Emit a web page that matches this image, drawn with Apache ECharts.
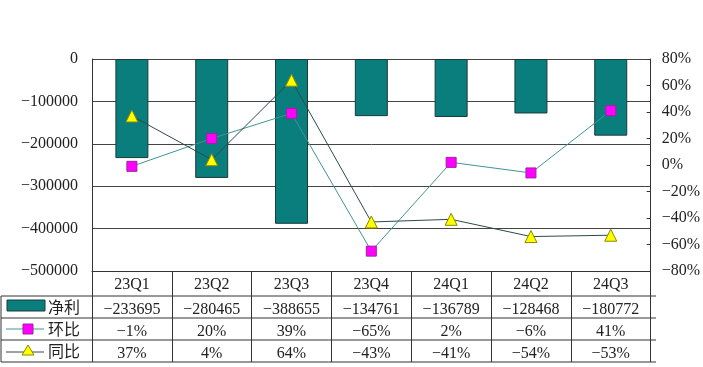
<!DOCTYPE html>
<html><head><meta charset="utf-8">
<script src="https://cdn.jsdelivr.net/npm/echarts@6/dist/echarts.min.js"></script>
<style>html,body{margin:0;padding:0;background:#fff}#c{width:703px;height:367px}</style>
</head><body><div id="c"></div>
<script>
var categories = ['23Q1','23Q2','23Q3','23Q4','24Q1','24Q2','24Q3'];
var netProfit = [-233695,-280465,-388655,-134761,-136789,-128468,-180772];
var qoq = [-1,20,39,-65,2,-6,41];
var yoy = [37,4,64,-43,-41,-54,-53];
var seriesNames = ['净利','环比','同比'];
var leftTicks = {min:-500000,max:0,interval:100000};
var rightTicks = {min:-80,max:80,interval:20};

var FONT = "'Liberation Serif','Noto Sans CJK SC',serif";
var CJK = "'Noto Sans CJK SC',sans-serif";
function m(s){return String(s).replace('-', '\u2212');}
var L=92, R=47, T=59, B=96, W=703, H=367;
var gx0 = L, gx1 = W-R, gy1 = H-B;
var rows=[296,318,340,362];
var barColor='#0a7d7d';
var chart = echarts.init(document.getElementById('c'));
var graphics=[];
rows.forEach(function(y){
  graphics.push({type:'line',shape:{x1:1,y1:y,x2:gx1,y2:y},style:{stroke:'#333',lineWidth:1}});
});
graphics.push({type:'line',shape:{x1:1,y1:rows[0],x2:1,y2:rows[3]},style:{stroke:'#333',lineWidth:1}});
// legend icons
graphics.push({type:'rect',shape:{x:7,y:300,width:38,height:11},style:{fill:barColor,stroke:'#1c3a3a',lineWidth:1}});
graphics.push({type:'line',shape:{x1:6,y1:329,x2:44,y2:329},style:{stroke:'#3f9696',lineWidth:1}});
graphics.push({type:'rect',shape:{x:23,y:324,width:10,height:10},style:{fill:'#ff00ff',stroke:'#a020a0',lineWidth:1}});
graphics.push({type:'line',shape:{x1:6,y1:352,x2:44,y2:352},style:{stroke:'#2d4a4a',lineWidth:1}});
graphics.push({type:'polygon',shape:{points:[[28,345],[22,355],[34,355]]},style:{fill:'#ffff00',stroke:'#8a8a00',lineWidth:1}});
[[seriesNames[0],307],[seriesNames[1],329],[seriesNames[2],351]].forEach(function(a){
  graphics.push({type:'text',style:{text:a[0],x:48,y:a[1],textVerticalAlign:'middle',font:'16px '+CJK,fill:'#222'}});
});

function rowAxis(data, offset){
  return {type:'category',gridIndex:0,position:'bottom',offset:offset,data:data,
    axisLine:{show:false,onZero:false},axisTick:{show:false},splitLine:{show:false},
    axisLabel:{interval:0,margin:5,fontSize:16,fontFamily:FONT,color:'#222'}};
}
var option = {
  animation:false,
  backgroundColor:'#fff',
  grid:{left:L,right:R,top:T,bottom:B},
  xAxis:[
    {type:'category',data:categories,position:'bottom',
      axisLine:{show:true,onZero:false,lineStyle:{color:'#333'}},
      axisTick:{show:true,inside:false,length:91,lineStyle:{color:'#333'}},
      axisLabel:{interval:0,margin:6,fontSize:16,fontFamily:FONT,color:'#222'}},
    rowAxis(netProfit.map(m),26),
    rowAxis(qoq.map(function(v){return m(v)+'%';}),48),
    rowAxis(yoy.map(function(v){return m(v)+'%';}),70)
  ],
  yAxis:[
    {type:'value',min:leftTicks.min,max:leftTicks.max,interval:leftTicks.interval,
      axisLine:{show:true,lineStyle:{color:'#333'}},axisTick:{show:false},
      splitLine:{show:true,lineStyle:{color:'#444',width:1}},
      axisLabel:{margin:14,fontSize:16,fontFamily:FONT,color:'#222',formatter:function(v){return m(v);}}},
    {type:'value',min:rightTicks.min,max:rightTicks.max,interval:rightTicks.interval,position:'right',
      axisLine:{show:true,lineStyle:{color:'#333'}},axisTick:{show:true,inside:true,length:4,lineStyle:{color:'#333'}},
      splitLine:{show:false},
      axisLabel:{margin:11,fontSize:16,fontFamily:FONT,color:'#222',formatter:function(v){return m(v)+'%';}}}
  ],
  series:[
    {name:seriesNames[0],type:'bar',data:netProfit,barWidth:33,
      itemStyle:{color:barColor,borderColor:'#1c3a3a',borderWidth:1}},
    {name:seriesNames[1],type:'line',yAxisIndex:1,data:qoq,symbol:'rect',symbolSize:10,
      lineStyle:{color:'#3f9696',width:1},itemStyle:{color:'#ff00ff',borderColor:'#a020a0',borderWidth:1},z:5},
    {name:seriesNames[2],type:'line',yAxisIndex:1,data:yoy,symbol:'triangle',symbolSize:12,
      lineStyle:{color:'#2d4a4a',width:1},itemStyle:{color:'#ffff00',borderColor:'#8a8a00',borderWidth:1},z:6}
  ],
  graphic:graphics
};
chart.setOption(option);
</script></body></html>
